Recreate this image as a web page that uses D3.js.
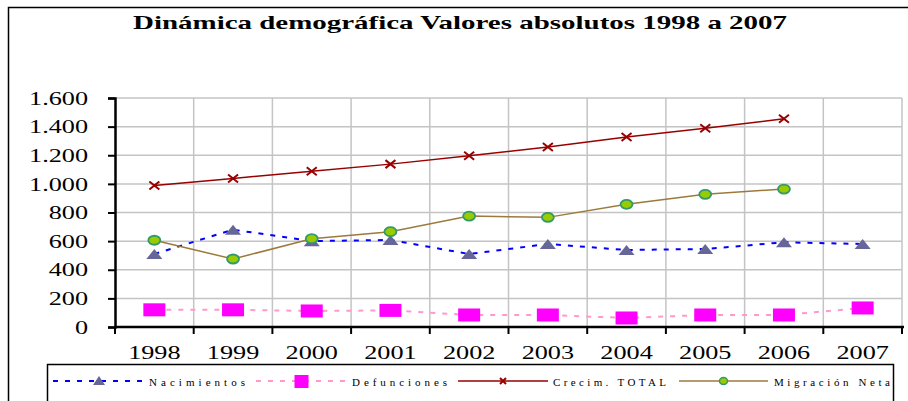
<!DOCTYPE html>
<html>
<head>
<meta charset="utf-8">
<script src="https://cdn.jsdelivr.net/npm/d3@7"></script>
<style>
  body { margin: 0; background: #fff; }
</style>
</head>
<body>
<svg id="chart" width="908" height="401"></svg>
<script>
// values
var years = ["1998", "1999", "2000", "2001", "2002", "2003", "2004", "2005", "2006", "2007"];
var nacimientos = [510, 680, 600, 608, 510, 580, 538, 545, 592, 580];
var defunciones = [120, 120, 112, 116, 84, 84, 63, 84, 84, 133];
var crecimTotal = [988, 1038, 1088, 1138, 1196, 1257, 1327, 1388, 1455, null];
var migracionNeta = [606, 475, 617, 666, 775, 766, 857, 927, 964, null];
var yTicks = [0, 200, 400, 600, 800, 1000, 1200, 1400, 1600];
var legendNames = ["Nacimientos", "Defunciones", "Crecim. TOTAL", "Migración Neta"];

var serif = "'Liberation Serif', 'Times New Roman', Times, 'DejaVu Serif', serif";
var svg = d3.select("#chart").attr("font-family", serif).style("font-family", serif);
var stretch = 1.38; // the source picture is wider than it is tall, text looks stretched

var x = d3.scaleBand().domain(years).range([115, 902]).padding(0);
var y = d3.scaleLinear().domain([0, 1600]).range([327, 98]);
var fmt = function(v) { return d3.format(",")(v).replace(/,/g, "."); };

// outer frame of the chart
svg.append("rect")
    .attr("x", 8.5).attr("y", 7.5).attr("width", 930).attr("height", 430)
    .attr("fill", "none").attr("stroke", "#000").attr("stroke-width", 1.5);

// title
svg.append("text")
    .attr("x", 460).attr("y", 29)
    .attr("text-anchor", "middle")
    .attr("font-size", 19).attr("font-weight", "bold")
    .attr("font-family", serif)
    .attr("textLength", 654).attr("lengthAdjust", "spacingAndGlyphs")
    .text("Dinámica demográfica Valores absolutos 1998 a 2007");

// grid
var grid = svg.append("g");
grid.selectAll("line.h").data(yTicks.slice(1)).enter().append("line")
    .attr("x1", 115).attr("x2", 902)
    .attr("y1", function(d) { return y(d); }).attr("y2", function(d) { return y(d); })
    .attr("stroke", "#c4c4c4").attr("stroke-width", 1.5);
grid.selectAll("line.v").data(years.slice(1).concat(["end"])).enter().append("line")
    .attr("x1", function(d, i) { return x.range()[0] + x.bandwidth() * (i + 1); })
    .attr("x2", function(d, i) { return x.range()[0] + x.bandwidth() * (i + 1); })
    .attr("y1", y(1600)).attr("y2", y(0))
    .attr("stroke", "#c4c4c4").attr("stroke-width", 1.5);

// y axis
var yAxis = svg.append("g").attr("transform", "translate(115,0)")
    .call(d3.axisLeft(y).tickValues(yTicks).tickSize(7).tickFormat(fmt));
yAxis.attr("font-family", serif).attr("font-size", 19);
yAxis.select(".domain").attr("stroke-width", 2.5);
yAxis.selectAll(".tick line").attr("stroke-width", 2);
yAxis.selectAll(".tick text")
    .attr("x", null).attr("dy", null)
    .attr("font-size", 19).attr("fill", "#000")
    .attr("text-anchor", "end")
    .attr("dominant-baseline", "central")
    .attr("transform", "translate(-27,0) scale(" + stretch + ",1)");

// x axis: ticks at category boundaries
var xAxis = svg.append("g").attr("transform", "translate(0," + y(0) + ")");
xAxis.append("line").attr("x1", 115).attr("x2", 904).attr("stroke", "#000").attr("stroke-width", 2.5);
xAxis.selectAll("line.tk").data(d3.range(years.length + 1)).enter().append("line")
    .attr("x1", function(i) { return 115 + x.bandwidth() * i; })
    .attr("x2", function(i) { return 115 + x.bandwidth() * i; })
    .attr("y1", 0).attr("y2", 7)
    .attr("stroke", "#000").attr("stroke-width", 2);
xAxis.selectAll("text").data(years).enter().append("text")
    .attr("transform", function(d) { return "translate(" + (x(d) + x.bandwidth() / 2) + ",32) scale(" + stretch + ",1)"; })
    .attr("text-anchor", "middle")
    .attr("font-size", 19)
    .text(function(d) { return d; });

var cx = function(i) { return x(years[i]) + x.bandwidth() / 2; };

function drawLine(values, color, width, dash) {
    var line = d3.line()
        .defined(function(d) { return d != null; })
        .x(function(d, i) { return cx(i); })
        .y(function(d) { return y(d); });
    svg.append("path").datum(values)
        .attr("d", line)
        .attr("fill", "none")
        .attr("stroke", color).attr("stroke-width", width)
        .attr("stroke-dasharray", dash);
}

// marker drawers, px,py = center
var markers = {
    tri: function(g, px, py) {
        g.append("path")
            .attr("d", "M" + (px - 8) + "," + (py + 5) + "L" + px + "," + (py - 5) + "L" + (px + 8) + "," + (py + 5) + "Z")
            .attr("fill", "#666699");
    },
    sq: function(g, px, py) {
        g.append("rect").attr("x", px - 11).attr("y", py - 6.5).attr("width", 22).attr("height", 13)
            .attr("fill", "#ff00ff");
    },
    cross: function(g, px, py) {
        g.append("path")
            .attr("d", "M" + (px - 5) + "," + (py - 4) + "L" + (px + 5) + "," + (py + 4) + "M" + (px - 5) + "," + (py + 4) + "L" + (px + 5) + "," + (py - 4))
            .attr("stroke", "#990000").attr("stroke-width", 2).attr("fill", "none");
    },
    dot: function(g, px, py) {
        g.append("ellipse").attr("cx", px).attr("cy", py).attr("rx", 6).attr("ry", 4.5)
            .attr("fill", "#99cc00").attr("stroke", "#33996a").attr("stroke-width", 1.8);
    }
};

function drawMarkers(values, kind) {
    var g = svg.append("g");
    values.forEach(function(v, i) {
        if (v == null) return;
        markers[kind](g, cx(i), y(v));
    });
}

var series = [
    { vals: nacimientos, color: "#0000ff", width: 2, dash: "5,7", mark: "tri" },
    { vals: defunciones, color: "#ff99cc", width: 2, dash: "5,7", mark: "sq" },
    { vals: crecimTotal, color: "#990000", width: 1.5, dash: null, mark: "cross" },
    { vals: migracionNeta, color: "#9c7a3c", width: 1.5, dash: null, mark: "dot" }
];

series.forEach(function(s) { drawLine(s.vals, s.color, s.width, s.dash); });
series.forEach(function(s) { drawMarkers(s.vals, s.mark); });

// legend
svg.append("rect")
    .attr("x", 47.5).attr("y", 364.5).attr("width", 846).attr("height", 60)
    .attr("fill", "#fff").attr("stroke", "#000").attr("stroke-width", 1.5);

var legendPos = [
    { x1: 53, x2: 145, tx: 149, tw: 96 },
    { x1: 256, x2: 347, tx: 352, tw: 95 },
    { x1: 458, x2: 548, tx: 553, tw: 113 },
    { x1: 679, x2: 768, tx: 774, tw: 116 }
];
var ly = 381;
series.forEach(function(s, i) {
    var p = legendPos[i];
    svg.append("line")
        .attr("x1", p.x1).attr("x2", p.x2).attr("y1", ly).attr("y2", ly)
        .attr("stroke", s.color).attr("stroke-width", s.width)
        .attr("stroke-dasharray", s.dash);
    var g = svg.append("g");
    var mx = (p.x1 + p.x2) / 2;
    if (s.mark === "cross") {
        g.append("path")
            .attr("d", "M" + (mx - 3) + "," + (ly - 3) + "L" + (mx + 3) + "," + (ly + 3) + "M" + (mx - 3) + "," + (ly + 3) + "L" + (mx + 3) + "," + (ly - 3))
            .attr("stroke", "#990000").attr("stroke-width", 2);
    } else if (s.mark === "sq") {
        g.append("rect").attr("x", mx - 7).attr("y", ly - 6).attr("width", 14).attr("height", 13).attr("fill", "#ff00ff");
    } else if (s.mark === "tri") {
        g.append("path")
            .attr("d", "M" + (mx - 6) + "," + (ly + 4) + "L" + mx + "," + (ly - 5) + "L" + (mx + 6) + "," + (ly + 4) + "Z")
            .attr("fill", "#666699");
    } else {
        g.append("ellipse").attr("cx", mx).attr("cy", ly).attr("rx", 4).attr("ry", 3.5)
            .attr("fill", "#99cc00").attr("stroke", "#33996a").attr("stroke-width", 1.5);
    }
    svg.append("text")
        .attr("x", p.tx).attr("y", ly + 5)
        .attr("font-size", 11)
        .attr("textLength", p.tw).attr("lengthAdjust", "spacing")
        .text(legendNames[i]);
});
</script>
</body>
</html>
